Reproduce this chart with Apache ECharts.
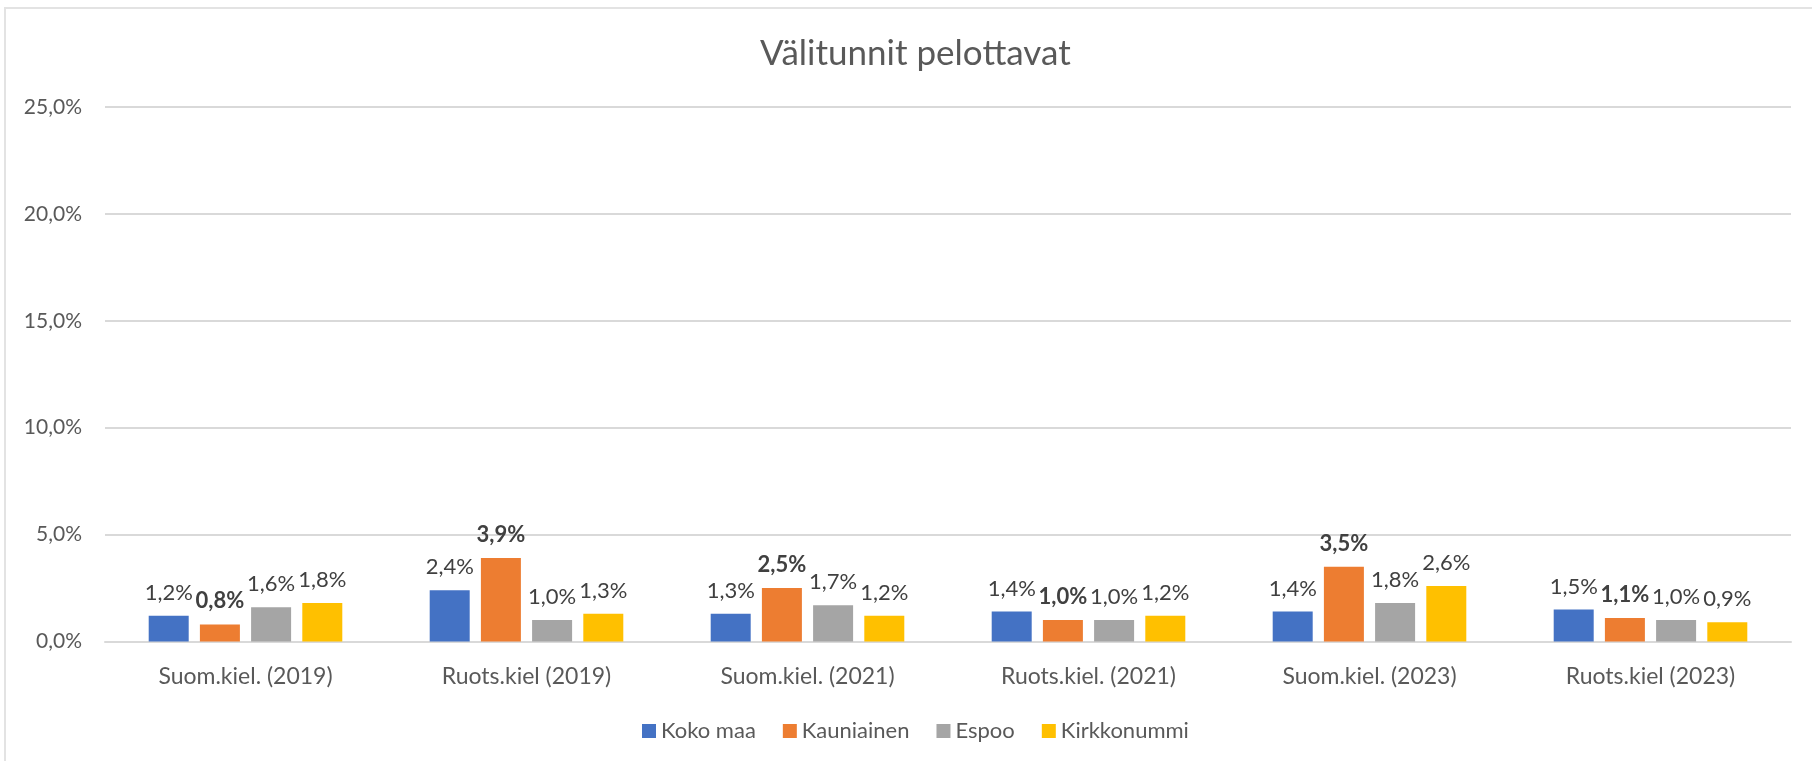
<!DOCTYPE html>
<html>
<head>
<meta charset="utf-8">
<title>Välitunnit pelottavat</title>
<script src="https://cdn.jsdelivr.net/npm/echarts@6/dist/echarts.min.js"></script>
<style>
  html, body { margin: 0; padding: 0; background: #fff; }
  #chart { width: 1812px; height: 761px; }
</style>
</head>
<body>
<div id="chart"></div>
<script>
// ryhmät (x-akseli)
var categories = ['Suom.kiel. (2019)', 'Ruots.kiel (2019)', 'Suom.kiel. (2021)',
                  'Ruots.kiel. (2021)', 'Suom.kiel. (2023)', 'Ruots.kiel (2023)'];
// arvot prosentteina
var kokoMaa     = [1.2, 2.4, 1.3, 1.4, 1.4, 1.5];
var kauniainen  = [0.8, 3.9, 2.5, 1.0, 3.5, 1.1];
var espoo       = [1.6, 1.0, 1.7, 1.0, 1.8, 1.0];
var kirkkonummi = [1.8, 1.3, 1.2, 1.2, 2.6, 0.9];
var yTicks = [0, 5, 10, 15, 20, 25];

var font = 'Lato';

function pct(v) {
    return v.toFixed(1).replace('.', ',') + '%';
}

function bar(name, data, color, bold) {
    return {
        name: name,
        type: 'bar',
        data: data,
        barWidth: 40,
        barGap: '28%',
        itemStyle: { color: color },
        label: {
            show: true,
            position: 'top',
            distance: 12,
            fontFamily: font,
            fontSize: 22,
            fontWeight: bold ? 'bold' : 'normal',
            color: '#404040',
            formatter: function (p) { return pct(p.value); }
        }
    };
}

var chart = echarts.init(document.getElementById('chart'));
chart.setOption({
    animation: false,
    backgroundColor: '#fff',
    title: {
        text: 'Välitunnit pelottavat',
        left: 755,
        top: 31,
        textStyle: { fontFamily: font, fontSize: 35, fontWeight: 'normal', color: '#595959' }
    },
    graphic: [{
        type: 'rect',
        shape: { x: 5, y: 8, width: 1900, height: 900 },
        style: { fill: 'none', stroke: '#e3e3e3', lineWidth: 2 },
        silent: true
    }],
    legend: {
        data: ['Koko maa', 'Kauniainen', 'Espoo', 'Kirkkonummi'],
        left: 637,
        top: 715,
        icon: 'rect',
        itemWidth: 14,
        itemHeight: 14,
        itemGap: 27,
        textStyle: { fontFamily: font, fontSize: 22, color: '#595959' }
    },
    grid: { left: 105, right: 21, top: 107, bottom: 119.5, containLabel: false },
    xAxis: {
        type: 'category',
        data: categories,
        axisLine: { lineStyle: { color: '#d9d9d9', width: 2 } },
        axisTick: { show: false },
        axisLabel: { fontFamily: font, fontSize: 23, color: '#595959', margin: 24 }
    },
    yAxis: {
        type: 'value',
        min: yTicks[0],
        max: yTicks[yTicks.length - 1],
        interval: 5,
        axisLine: { show: false },
        axisTick: { show: false },
        splitLine: { lineStyle: { color: '#d9d9d9', width: 2 } },
        axisLabel: { fontFamily: font, fontSize: 21, color: '#595959', margin: 23,
                     formatter: function (v) { return pct(v); } }
    },
    series: [
        bar('Koko maa', kokoMaa, '#4472C4', false),
        bar('Kauniainen', kauniainen, '#ED7D31', true),
        bar('Espoo', espoo, '#A5A5A5', false),
        bar('Kirkkonummi', kirkkonummi, '#FFC000', false)
    ]
});
</script>
</body>
</html>
